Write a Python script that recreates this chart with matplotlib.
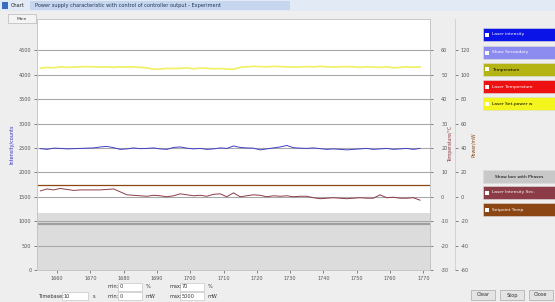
import numpy as np
import matplotlib.pyplot as plt
from matplotlib.patches import Rectangle

# data (left axis units)
t = np.arange(1655, 1771, 2)
intensity = [2485, 2470, 2495, 2490, 2480, 2485, 2490, 2495, 2500, 2520, 2530, 2505, 2470, 2480, 2500,
             2485, 2490, 2500, 2480, 2470, 2510, 2520, 2495, 2480, 2490, 2470, 2480, 2500, 2490, 2540,
             2510, 2500, 2495, 2460, 2480, 2500, 2520, 2550, 2505, 2495, 2490, 2500, 2485, 2470, 2480,
             2470, 2460, 2470, 2480, 2490, 2470, 2480, 2490, 2470, 2480, 2490, 2470, 2490]
temperature = [1620, 1660, 1640, 1670, 1650, 1630, 1640, 1640, 1640, 1640, 1650, 1660, 1600, 1540, 1530,
               1520, 1510, 1530, 1520, 1500, 1520, 1560, 1540, 1520, 1530, 1510, 1550, 1560, 1500, 1580,
               1500, 1520, 1540, 1530, 1500, 1520, 1510, 1520, 1500, 1510, 1510, 1480, 1460, 1470, 1480,
               1470, 1460, 1470, 1480, 1470, 1470, 1540, 1480, 1490, 1470, 1470, 1480, 1430]
setpoint_power = [4130, 4150, 4140, 4160, 4150, 4155, 4160, 4165, 4160, 4155, 4160, 4150, 4160, 4155, 4160,
                  4150, 4140, 4110, 4115, 4130, 4125, 4130, 4140, 4120, 4135, 4130, 4120, 4125, 4115, 4110,
                  4150, 4160, 4170, 4165, 4160, 4170, 4165, 4160, 4155, 4160, 4165, 4160, 4170, 4160, 4155,
                  4160, 4165, 4160, 4150, 4160, 4155, 4150, 4160, 4140, 4150, 4160, 4150, 4160]
setpoint_temp = 1735
phase_top = 1160
phase_line = 940

left_ticks = np.arange(0, 5000, 500)
right1_ticks = np.arange(-30, 70, 10)
right2_ticks = np.arange(-60, 140, 20)
x_ticks = np.arange(1660, 1780, 10)

buttons = [("Laser intensity", "#0a14e6", "white"),
           ("Show Secondary", "#8c8cf0", "white"),
           ("Temperature", "#b4b414", "black"),
           ("Laser Temperature", "#ee1111", "white"),
           ("Laser Set-power w", "#f5f51e", "black")]
buttons2 = [("Show box with Phases", "#c8c8c8", "black"),
            ("Laser Intensity Sec.", "#8c3c46", "white"),
            ("Setpoint Temp", "#8c4614", "white")]

W, H = 555, 302
fig = plt.figure(figsize=(W / 100, H / 100), dpi=100)
fig.patch.set_facecolor('#eeeeee')

def box(x, y, w, h, **kw):
    fig.patches.append(Rectangle((x / W, 1 - (y + h) / H), w / W, h / H,
                                 transform=fig.transFigure, **kw))

def txt(x, y, s, **kw):
    kw.setdefault('fontsize', 3.6)
    kw.setdefault('va', 'center')
    fig.text(x / W, 1 - y / H, s, **kw)

# window title bar
box(0, 0, W, 11, facecolor='#e2eaf5', edgecolor='none')
box(30, 1, 260, 9, facecolor='#c6d6ee', edgecolor='none')
box(2, 2, 6, 7, facecolor='#3a6fc0', edgecolor='none')
txt(11, 5.5, "Chart", color='#222222')
txt(35, 5.5, "Power supply characteristic with control of controller output - Experiment", color='#223355')
box(8, 14, 28, 9, facecolor='#f4f4f4', edgecolor='#aaaaaa', lw=0.4)
txt(22, 18.5, "Main", ha='center', fontsize=3.2, color='#444444')

ax = fig.add_axes([37 / W, 1 - 270 / H, (430 - 37) / W, (270 - 19) / H])
ax.set_facecolor('white')
ax.set_xlim(1654, 1772)
ax.set_ylim(0, 5140)

ax.axhspan(0, phase_top, color='#dcdcdc', lw=0)
ax.axhline(phase_line, color='#a0a0a0', lw=1.6)
for v in left_ticks[1:]:
    ax.axhline(v, color='#a8a8a8', lw=0.8)
ax.axhline(setpoint_temp, color='#8c4614', lw=0.9)

ax.plot(t, setpoint_power, color='#f0f060', lw=1.2)
ax.plot(t, intensity, color='#4040c8', lw=0.7)
ax.plot(t, temperature, color='#8c3c46', lw=0.7)

ax.set_yticks(left_ticks)
ax.set_yticklabels([str(v) for v in left_ticks])
ax.set_xticks(x_ticks)
ax.set_xticklabels([str(v) for v in x_ticks])
ax.tick_params(labelsize=3.5, length=2, width=0.5, colors='#555555', pad=2)
ax.set_ylabel("Intensity/counts", fontsize=3.5, color='#3030c0', labelpad=3)
for s in ax.spines.values():
    s.set_color('#b0b0b0')
    s.set_linewidth(0.5)

ax2 = ax.twinx()
ax2.set_ylim(-30, -30 + 5140 / 50)
ax2.set_yticks(right1_ticks)
ax2.set_yticklabels([str(v) for v in right1_ticks])
ax2.tick_params(labelsize=3.5, length=2, width=0.5, colors='#555555', pad=6)
ax2.set_ylabel("Temperature/°C", fontsize=3.3, color='#8c3c46', labelpad=1)
ax2.yaxis.set_label_coords(1.045, 0.5)

ax3 = ax.twinx()
ax3.set_ylim(-60, -60 + 5140 / 25)
ax3.spines['right'].set_position(('outward', 18))
ax3.set_yticks(right2_ticks)
ax3.set_yticklabels([str(v) for v in right2_ticks])
ax3.tick_params(labelsize=3.5, length=2, width=0.5, colors='#555555', pad=2)
ax3.set_ylabel("Power/mW", fontsize=3.3, color='#8c4614', labelpad=1)
ax3.yaxis.set_label_coords(1.105, 0.5)
for a in (ax2, ax3):
    for s in a.spines.values():
        s.set_color('#c8c8c8')
        s.set_linewidth(0.5)

# legend buttons on the right
ys = [28, 46, 63, 80, 97]
for (label, c, tc), y in zip(buttons, ys):
    box(483, y, 72, 13, facecolor=c, edgecolor='#dddddd', lw=0.4)
    box(485, y + 4.5, 4, 4, facecolor='white', edgecolor='none')
    txt(492, y + 6.5, label, color=tc, fontsize=3.2)
ys2 = [170, 186, 203]
for (label, c, tc), y in zip(buttons2, ys2):
    box(483, y, 72, 13, facecolor=c, edgecolor='#dddddd', lw=0.4)
    if y > 170:
        box(485, y + 4.5, 4, 4, facecolor='white', edgecolor='none')
        txt(492, y + 6.5, label, color=tc, fontsize=3.2)
    else:
        txt(519, y + 6.5, label, color=tc, fontsize=3.2, ha='center')

# bottom controls
txt(38, 296, "Timebase:", color='#333333')
box(62, 292, 26, 8, facecolor='white', edgecolor='#bbbbbb', lw=0.4)
txt(64, 296, "10", color='#333333')
txt(93, 296, "s", color='#333333')
for row, unit, vals in [(287, "%", ("0", "70")), (296, "mW", ("0", "5000"))]:
    for x0, lab, val in [(108, "min", vals[0]), (170, "max", vals[1])]:
        txt(x0, row, lab + ":", color='#333333')
        box(x0 + 10, row - 4, 24, 8, facecolor='white', edgecolor='#bbbbbb', lw=0.4)
        txt(x0 + 12, row, val, color='#333333')
        txt(x0 + 38, row, unit, color='#333333')
for x0, lab in [(471, "Clear"), (500, "Stop"), (529, "Close")]:
    box(x0, 290, 24, 10, facecolor='#e4e4e4', edgecolor='#999999', lw=0.4)
    txt(x0 + 12, 295, lab, ha='center', color='#333333')

fig.savefig('out.png', dpi=100, facecolor=fig.get_facecolor())
